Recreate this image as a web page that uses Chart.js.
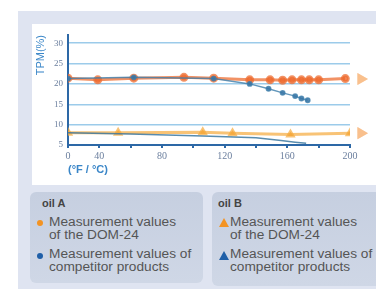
<!DOCTYPE html>
<html>
<head>
<meta charset="utf-8">
<script src="https://cdn.jsdelivr.net/npm/chart.js@4.4.0/dist/chart.umd.min.js"></script>
<style>
  body { margin: 0; width: 376px; height: 289px; background: #fff; position: relative; overflow: hidden; font-family: "Liberation Sans", Arial, sans-serif; }
  #bg { position: absolute; left: 18px; top: 11px; right: 0; bottom: 0; background: #dfe4f1; }
  #panel { position: absolute; left: 32px; top: 24px; width: 344px; height: 161px; background: #fff; }
  .box { position: absolute; top: 192px; background: linear-gradient(#c6cfe0, #cfd7e6); border-radius: 6px; color: #555; }
  .box h4 { margin: 0; position: absolute; top: 5px; font-size: 11px; font-weight: bold; color: #444; }
  .item { position: absolute; font-size: 13.7px; line-height: 12.5px; white-space: nowrap; }
  .mk { position: absolute; }
</style>
</head>
<body>
<div id="bg"></div>
<div id="panel"><canvas id="myChart" width="344" height="161"></canvas></div>

<div class="box" style="left:30px; width:173px; height:91px;">
  <h4 style="left:12px;">oil A</h4>
  <div class="mk" style="left:7px; top:28px; width:6px; height:6px; border-radius:50%; background:#f39323;"></div>
  <div class="item" style="left:19px; top:24px;">Measurement values<br>of the DOM-24</div>
  <div class="mk" style="left:7px; top:61px; width:6px; height:6px; border-radius:50%; background:#1f5fa8;"></div>
  <div class="item" style="left:19px; top:56px;">Measurement values of<br>competitor products</div>
</div>
<div class="box" style="left:212px; width:180px; height:94px;">
  <h4 style="left:6px;">oil B</h4>
  <div class="mk" style="left:7px; top:26px; width:0; height:0; border-left:5px solid transparent; border-right:5px solid transparent; border-bottom:9px solid #f39323;"></div>
  <div class="item" style="left:18px; top:24px;">Measurement values<br>of the DOM-24</div>
  <div class="mk" style="left:7px; top:59px; width:0; height:0; border-left:5px solid transparent; border-right:5px solid transparent; border-bottom:9px solid #1f5fa8;"></div>
  <div class="item" style="left:18px; top:56px;">Measurement values of<br>competitor products</div>
</div>

<script>
// x = temperature, y = TPM (%)
const tempA_dom = [20, 39, 62, 94, 113, 136, 149, 157, 163, 169, 174, 180, 197];
const tpmA_dom = [21.4, 21.0, 21.4, 21.6, 21.4, 21.0, 21.0, 20.9, 21.0, 21.0, 21.0, 21.0, 21.3];

const tempA_comp = [20, 62, 113, 136, 148, 157, 165, 169, 173];
const tpmA_comp = [21.3, 21.6, 21.3, 20.0, 18.8, 17.8, 17.0, 16.4, 16.0];

const tempB_dom = [20, 52, 106, 125, 162, 200];
const tpmB_dom = [8.0, 8.0, 8.1, 7.9, 7.6, 7.9];

const tempB_comp = [20, 60, 106, 140, 156, 165, 172];
const tpmB_comp = [8.0, 7.7, 7.2, 6.8, 6.1, 5.7, 5.4];

// end-of-curve arrows (beyond the 200 mark)
const arrowX = [207, 207];
const arrowY = [21.2, 7.9];

const xTicks = [20, 40, 60, 80, 100, 120, 140, 160, 180, 200];
const xTickLabels = {20: "0", 40: "40", 80: "80", 120: "120", 160: "160", 200: "200"};

function pts(xs, ys) {
	return xs.map((x, i) => ({ x: x, y: ys[i] }));
}

// arrows sit outside the chart area, so draw them here with the scales
const arrowPlugin = {
	id: "arrows",
	afterDatasetsDraw(chart) {
		const c = chart.ctx;
		const xs = chart.scales.x, ys = chart.scales.y;
		c.save();
		c.fillStyle = "rgba(248, 185, 130, 0.7)";
		arrowX.forEach((v, i) => {
			Chart.helpers.drawPoint(c, { pointStyle: "triangle", rotation: 90, radius: 7, borderWidth: 0 },
				xs.getPixelForValue(v), ys.getPixelForValue(arrowY[i]));
			c.fill();
		});
		c.restore();
	},
};

const ctx = document.getElementById("myChart").getContext("2d");
let myChart = new Chart(ctx, {
	type: "line",
	plugins: [arrowPlugin],
	data: {
		datasets: [
			{
				label: "oil B competitor",
				data: pts(tempB_comp, tpmB_comp),
				borderColor: "rgba(60, 120, 160, 0.85)",
				backgroundColor: "#3c78a0",
				borderWidth: 1.5,
				pointStyle: "triangle",
				pointRadius: 0,
			},
			{
				label: "oil B DOM-24",
				data: pts(tempB_dom, tpmB_dom),
				borderColor: "rgba(245, 170, 60, 0.7)",
				backgroundColor: "rgba(245, 160, 50, 0.7)",
				borderWidth: 3,
				pointStyle: "triangle",
				pointRadius: 3,
			},
			{
				label: "oil A competitor",
				data: pts(tempA_comp, tpmA_comp),
				borderColor: "rgba(60, 125, 170, 0.8)",
				backgroundColor: "rgba(55, 115, 165, 0.85)",
				borderWidth: 1.5,
				pointRadius: 2.2,
			},
			{
				label: "oil A DOM-24",
				data: pts(tempA_dom, tpmA_dom),
				borderColor: "rgba(238, 110, 50, 0.75)",
				backgroundColor: "rgba(238, 100, 40, 0.75)",
				borderWidth: 3,
				pointRadius: 3,
			},
		],
	},
	options: {
		responsive: false,
		animation: false,
		devicePixelRatio: 1,
		layout: { padding: { top: 11, right: 26, left: 0, bottom: 0 } },
		plugins: { legend: { display: false }, tooltip: { enabled: false } },
		elements: { line: { tension: 0 }, point: { borderWidth: 0 } },
		scales: {
			x: {
				type: "linear",
				min: 20,
				max: 200,
				afterBuildTicks: (s) => { s.ticks = xTicks.map((v) => ({ value: v })); },
				afterFit: (s) => { s.height = 40; },
				border: { color: "#2d68a6", width: 2 },
				grid: { drawOnChartArea: false, drawTicks: true, tickLength: 3, color: "#2d68a6", lineWidth: 2 },
				ticks: {
					autoSkip: false,
					maxRotation: 0,
					padding: 2,
					color: "#6b7f9e",
					font: { family: "Liberation Serif", size: 10 },
					callback: (v) => xTickLabels[v] || "",
				},
				title: {
					display: true,
					text: "(°F / °C)",
					align: "start",
					color: "#3a86c8",
					font: { family: "Liberation Sans", size: 11, weight: "bold" },
					padding: { top: 0, bottom: 8 },
				},
			},
			y: {
				min: 5,
				max: 32,
				afterFit: (s) => { s.width = 36; },
				afterBuildTicks: (s) => { s.ticks = [5, 10, 15, 20, 25, 30].map((v) => ({ value: v })); },
				border: { color: "#2d68a6", width: 2 },
				grid: { color: "#9ccbea", lineWidth: 1.5, drawTicks: false },
				ticks: {
					padding: 5,
					color: "#6b7f9e",
					font: { family: "Liberation Serif", size: 9 },
				},
				title: {
					display: true,
					text: "TPM(%)",
					align: "end",
					color: "#3a86c8",
					font: { family: "Liberation Sans", size: 11 },
					padding: { top: 2, bottom: 0 },
				},
			},
		},
	},
});
</script>
</body>
</html>
